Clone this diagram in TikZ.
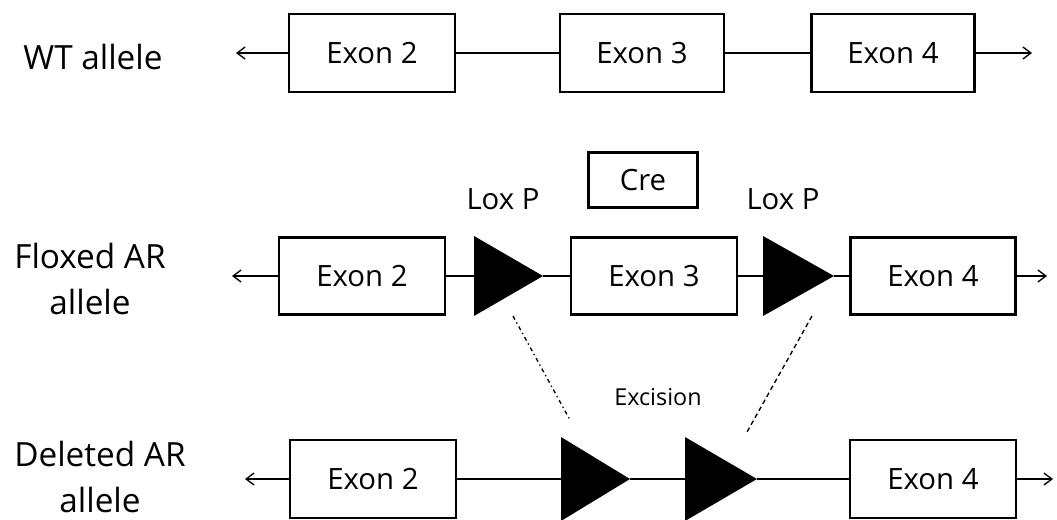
\documentclass[tikz,border=0pt]{standalone}
\usepackage{fontspec}
\setmainfont{Open Sans}
\usetikzlibrary{arrows.meta}
\begin{document}
\begin{tikzpicture}[x=0.75pt,y=-0.75pt,
  exon/.style={draw,line width=2.2pt,fill=white,minimum height=58.5pt,inner sep=0pt,font=\fontsize{22}{26}\selectfont},
  lbl/.style={font=\fontsize{25}{35}\selectfont,inner sep=0pt},
  mid/.style={font=\fontsize{22}{26}\selectfont,inner sep=0pt},
  small/.style={font=\fontsize{17.5}{20}\selectfont,inner sep=0pt},
  conn/.style={line width=1pt},
  tip/.style={conn,-{Straight Barb[length=6pt,width=9pt,line width=1pt]}},
  tri/.style={fill=black}]
\useasboundingbox (0,0) rectangle (1057,519);
% ---- Row 1: WT allele
\node[lbl] (wt) at (93,57) {WT allele};
\node[exon,minimum width=124.5pt] (a2) at (372,53) {Exon 2};
\node[exon,minimum width=123pt] (a3) at (642,53) {Exon 3};
\node[exon,minimum width=122.25pt] (a4) at (893,53) {Exon 4};
\coordinate (aL) at (236,53);
\coordinate (aR) at (1032,53);
\draw[tip] (a2.west) -- (aL);
\draw[conn] (a2.east) -- (a3.west);
\draw[conn] (a3.east) -- (a4.west);
\draw[tip] (a4.east) -- (aR);
% ---- Row 2: Floxed AR allele
\node[lbl,align=center] (fl) at (90,279) {Floxed AR\\allele};
\node[exon,minimum width=124.5pt,minimum height=57.75pt] (b2) at (362,276) {Exon 2};
\node[exon,minimum width=124.5pt,minimum height=57.75pt] (b3) at (654,276) {Exon 3};
\node[exon,minimum width=123.75pt,minimum height=57.75pt] (b4) at (933,276) {Exon 4};
\node[draw,line width=2.2pt,minimum width=81.75pt,minimum height=41.25pt,inner sep=0pt,font=\fontsize{22}{26}\selectfont] (cre) at (643,180) {Cre};
\node[mid] (lox1) at (503,199) {Lox P};
\node[mid] (lox2) at (783,199) {Lox P};
\coordinate (t1b) at (474,276); \coordinate (t1a) at (543,276);
\coordinate (t2b) at (763,276); \coordinate (t2a) at (834,276);
\fill[tri] (474,236) -- (543,276) -- (474,316) -- cycle;
\fill[tri] (763,236) -- (834,276) -- (763,316) -- cycle;
\coordinate (bL) at (232,276);
\coordinate (bR) at (1047,276);
\draw[tip] (b2.west) -- (bL);
\draw[conn] (b2.east) -- (t1b);
\draw[conn] (t1a) -- (b3.west);
\draw[conn] (b3.east) -- (t2b);
\draw[conn] (t2a) -- (b4.west);
\draw[tip] (b4.east) -- (bR);
% ---- Excision
\node[small] (exc) at (658,397) {Excision};
\coordinate (d1s) at (513,316); \coordinate (d1e) at (570,420);
\coordinate (d2s) at (812,316); \coordinate (d2e) at (747,432);
\draw[line width=1pt,dash pattern=on 3pt off 2.5pt on 1pt off 2.5pt] (d1s) -- (d1e);
\draw[line width=1pt,dash pattern=on 3.5pt off 2.5pt] (d2s) -- (d2e);
% ---- Row 3: Deleted AR allele
\node[lbl,align=center] (dl) at (100,477) {Deleted AR\\allele};
\node[exon,minimum width=124.5pt] (c2) at (373,479) {Exon 2};
\node[exon,minimum width=124.5pt] (c4) at (933,479) {Exon 4};
\coordinate (t3b) at (561,479); \coordinate (t3a) at (630,479);
\coordinate (t4b) at (685,479); \coordinate (t4a) at (757,479);
\fill[tri] (561,437) -- (630,479) -- (561,521) -- cycle;
\fill[tri] (685,437) -- (757,479) -- (685,521) -- cycle;
\coordinate (cL) at (245,479);
\coordinate (cR) at (1053,479);
\draw[tip] (c2.west) -- (cL);
\draw[conn] (c2.east) -- (t3b);
\draw[conn] (t3a) -- (t4b);
\draw[conn] (t4a) -- (c4.west);
\draw[tip] (c4.east) -- (cR);
\end{tikzpicture}
\end{document}
